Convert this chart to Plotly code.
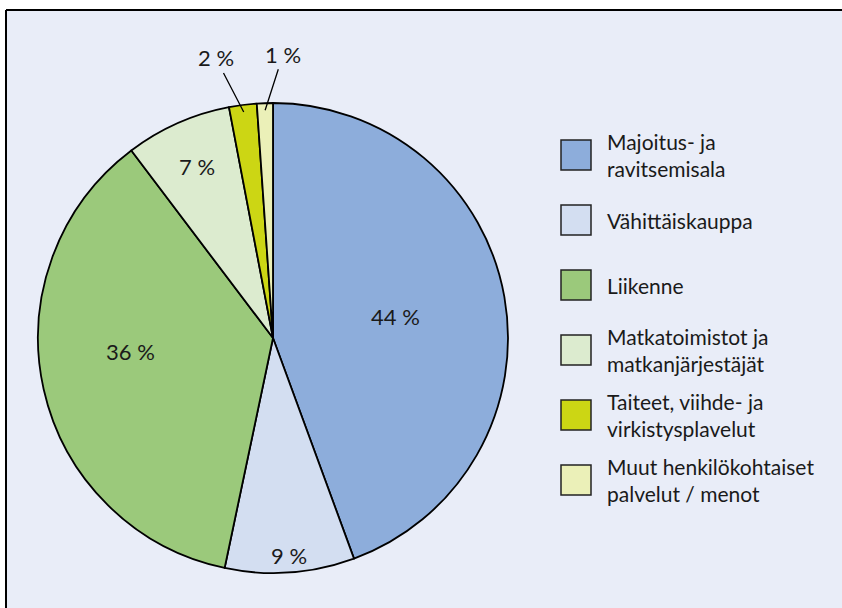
import math
import plotly.graph_objects as go

# slice data, clockwise from 12 o'clock
labels = [
    "Majoitus- ja<br>ravitsemisala",
    "Vähittäiskauppa",
    "Liikenne",
    "Matkatoimistot ja<br>matkanjärjestäjät",
    "Taiteet, viihde- ja<br>virkistysplavelut",
    "Muut henkilökohtaiset<br>palvelut / menot",
]
values = [44.4, 8.9, 36.4, 7.3, 1.9, 1.1]
pct_text = ["44 %", "9 %", "36 %", "7 %", "2 %", "1 %"]
colors = ["#8DADDB", "#D3DEF1", "#9BC97B", "#DCEBCF", "#CCD614", "#EBF0B8"]

W, H = 842, 608
cx, cy, R = 273, 338, 235   # pie centre / radius in pixels
FONT = "Lato, 'Open Sans', sans-serif"
TXT = "#1a1a1a"
FS = 22


def px(x):
    return x / W


def py(y):
    return 1 - y / H


# label placement: radius as fraction of R and angle nudge (deg);
# small slices get an outside label with a leader line instead
label_r = [0.53, 0.93, 0.61, 0.80, None, None]
label_shift = [0, 0, 7, 0, 0, 0]
leader_offset = {4: (-28, -54), 5: (18, -56)}

fig = go.Figure()
fig.add_trace(go.Pie(
    labels=labels,
    values=values,
    textinfo="none",
    sort=False,
    direction="clockwise",
    rotation=0,
    marker=dict(colors=colors, line=dict(color="black", width=1.8)),
    showlegend=False,
    domain=dict(x=[px(cx - R), px(cx + R)], y=[py(cy + R), py(cy - R)]),
    hoverinfo="label+percent",
))

total = sum(values)
cum = 0
for i, v in enumerate(values):
    mid = (cum + v / 2) / total * 360
    cum += v
    if label_r[i] is not None:
        a = math.radians(mid + label_shift[i])
        fig.add_annotation(
            x=px(cx + label_r[i] * R * math.sin(a)),
            y=py(cy - label_r[i] * R * math.cos(a)),
            xref="paper", yref="paper", text=pct_text[i], showarrow=False,
            xanchor="center", yanchor="middle",
            font=dict(family=FONT, size=FS, color=TXT),
        )
    else:
        a = math.radians(mid)
        tx = cx + 0.97 * R * math.sin(a)
        ty = cy - 0.97 * R * math.cos(a)
        ax, ay = leader_offset[i]
        fig.add_annotation(
            x=px(tx), y=py(ty), xref="paper", yref="paper",
            text=pct_text[i], showarrow=True, arrowhead=0, arrowwidth=1.3,
            arrowcolor="black", ax=ax, ay=ay, standoff=0,
            font=dict(family=FONT, size=FS, color=TXT),
        )

# frame: filled panel, with only the top and left edges drawn
fig.add_shape(type="rect", xref="paper", yref="paper",
              x0=px(6), y0=0, x1=1, y1=py(10),
              fillcolor="#E9EDF8", line=dict(width=0), layer="below")
fig.add_shape(type="line", xref="paper", yref="paper",
              x0=px(6), y0=py(10), x1=1, y1=py(10),
              line=dict(color="black", width=2))
fig.add_shape(type="line", xref="paper", yref="paper",
              x0=px(6), y0=py(10), x1=px(6), y1=0,
              line=dict(color="black", width=2))

# legend built by hand so the swatches can be 30px squares
for i in range(len(labels)):
    yc = 155 + 65 * i
    fig.add_shape(type="rect", xref="paper", yref="paper",
                  x0=px(561), x1=px(591), y0=py(yc + 15), y1=py(yc - 15),
                  fillcolor=colors[i], line=dict(color="#222222", width=1.5))
    fig.add_annotation(x=px(605), y=py(yc), xref="paper", yref="paper",
                       text=labels[i], showarrow=False, xanchor="left",
                       yanchor="middle", align="left",
                       font=dict(family=FONT, size=FS - 1, color=TXT))

fig.update_layout(
    width=W, height=H,
    margin=dict(l=0, r=0, t=0, b=0),
    paper_bgcolor="white",
    plot_bgcolor="white",
)

fig.write_html(
    "out.html",
    config={"displayModeBar": False},
    post_script="document.body.style.margin='0';"
                "document.body.style.overflow='hidden';"
                "document.documentElement.style.overflow='hidden';",
)
